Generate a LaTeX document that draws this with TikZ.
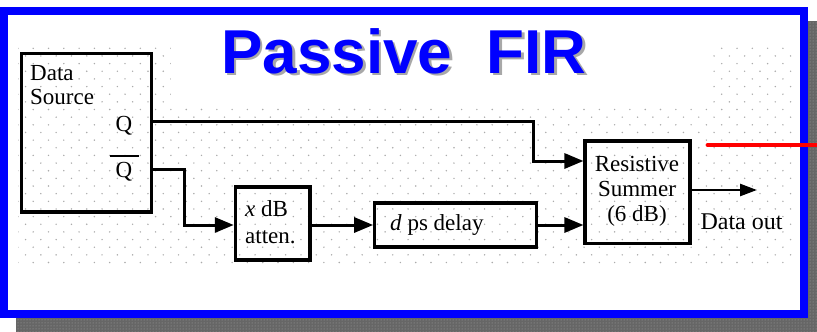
\documentclass[tikz,border=0pt]{standalone}
\usepackage{fontspec}
\setmainfont{Liberation Serif}
\newfontfamily\titlefont{Liberation Sans}
\usetikzlibrary{arrows.meta,patterns}
\definecolor{dotgray}{HTML}{ABABAB}
\definecolor{shadowgray}{HTML}{666666}
\definecolor{shadowdot}{HTML}{A4A4A4}
\definecolor{titleshadow}{HTML}{A8A8A8}
\definecolor{frameblue}{RGB}{0,0,255}
\definecolor{redline}{RGB}{255,0,0}
\begin{document}
\begin{tikzpicture}[x=1pt,y=-1pt,
  blk/.style={draw=black,line width=3.1pt,inner sep=0pt},
  lbl/.style={inner sep=0pt,font=\fontsize{23}{25}\selectfont},
  arr/.style={draw=black,line width=3pt,-{Triangle[length=19pt,width=15pt]}},
  titletxt/.style={inner sep=0pt,font=\titlefont\fontsize{62}{62}\selectfont\bfseries}]
\useasboundingbox (0,0) rectangle (817,332);
% shadow
\fill[shadowgray] (16,21) rectangle (817,332);
\fill[pattern=dots,pattern color=shadowdot] (16,21) rectangle (817,332);
% frame interior
\fill[white] (0,7) rectangle (808,318);
% dotted background
\begin{scope}
\clip (18,44) rectangle (793,268);
\foreach \r in {0,...,28}{
  \pgfmathsetmacro{\yy}{48.3+7.65*\r}
  \pgfmathsetmacro{\xo}{2.6+7.65*mod(\r,2)}
  \foreach \j in {0,...,51}{
    \fill[dotgray] (\xo+15.3*\j,\yy) circle[radius=0.8pt];
  }
}
\end{scope}
\fill[white] (171,13) rectangle (710,105);
% title
\node[titletxt,text=titleshadow,anchor=base] (titlesh) at (406.5,75.5) {Passive\ \ FIR};
\node[titletxt,text=frameblue,anchor=base] (title) at (404,73) {Passive\ \ FIR};
% frame
\draw[frameblue,line width=8pt] (4,11) rectangle (804,314);
% blocks
\node[blk,minimum width=130pt,minimum height=158.5pt] (src) at (86.5,132.75) {};
\node[blk,minimum width=74.7pt,minimum height=73pt] (atten) at (272.65,223.5) {};
\node[blk,minimum width=161.6pt,minimum height=44pt] (delay) at (455.5,225) {};
\node[blk,minimum width=105pt,minimum height=102.5pt] (sum) at (637.5,192.25) {};
% labels
\node[lbl,anchor=base west] (srcl1) at (30,80) {Data};
\node[lbl,anchor=base west] (srcl2) at (30,104) {Source};
\node[lbl,anchor=base east] (qlbl) at (132.5,131) {Q};
\node[lbl,anchor=base east] (qblbl) at (132.5,177) {Q};
\draw[line width=1.4pt] (110,156) -- (139,156);
\node[lbl,anchor=base west] (attl1) at (245,216.7) {\textit{x} dB};
\node[lbl,anchor=base west] (attl2) at (245,243.3) {atten.};
\node[lbl,anchor=base west] (dlyl) at (390,230) {\textit{d} ps delay};
\node[lbl,anchor=base] (suml1) at (637,171.7) {Resistive};
\node[lbl,anchor=base] (suml2) at (637,196.7) {Summer};
\node[lbl,anchor=base] (suml3) at (637,221.7) {(6 dB)};
\node[lbl,anchor=base,font=\fontsize{24}{26}\selectfont] (doutl) at (741.5,229.3) {Data out};
% connectors
\coordinate (qrow) at (0,121);
\coordinate (qbrow) at (0,169);
\coordinate (bend1) at (533,0);
\coordinate (bend2) at (184,0);
\coordinate (s1) at (0,161);
\coordinate (dout) at (757,190);
\draw[arr] (src.east |- qrow) -- (bend1 |- qrow) -- (bend1 |- s1) -- (sum.west |- s1);
\draw[arr] (src.east |- qbrow) -- (bend2 |- qbrow) -- (bend2 |- delay) -- (atten.west |- delay);
\draw[arr] (atten.east |- delay) -- (delay.west);
\draw[arr] (delay.east) -- (sum.west |- delay);
\draw[arr,line width=2.5pt,-{Triangle[length=17pt,width=12pt]}] (sum.east |- dout) -- (dout);
% red line
\coordinate (redL) at (708,145);
\coordinate (redR) at (822,145);
\draw[redline,line width=4.8pt,line cap=round] (redL) -- (redR);
\end{tikzpicture}
\end{document}
